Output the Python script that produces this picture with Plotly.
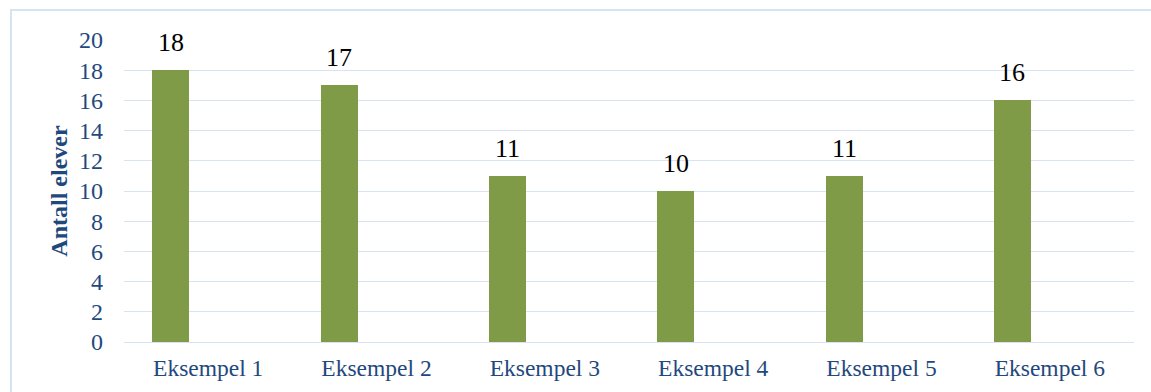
import plotly.graph_objects as go

categories = ["Eksempel 1", "Eksempel 2", "Eksempel 3", "Eksempel 4", "Eksempel 5", "Eksempel 6"]
antall_elever = [18, 17, 11, 10, 11, 16]
y_ticks = list(range(0, 21, 2))

BAR_COLOR = "#7F9B48"
TEXT_BLUE = "#1F497D"
GRID_COLOR = "#D9E2F3"
FONT = "Times New Roman, Liberation Serif, serif"

W, H = 1151, 392
L, R, T, B = 124, 17, 40, 50
plot_w = W - L - R
plot_h = H - T - B
cat_w = plot_w / len(categories)

bar_width = 0.22
bar_offset = -0.332  # left edge relative to category centre

fig = go.Figure()
fig.add_trace(go.Bar(
    x=categories,
    y=antall_elever,
    width=bar_width,
    offset=bar_offset,
    marker=dict(color=BAR_COLOR, line=dict(width=0)),
    hoverinfo="skip",
))

# value labels above each bar
shift_px = (bar_offset + bar_width / 2) * cat_w
for c, v in zip(categories, antall_elever):
    fig.add_annotation(
        x=c, y=v, xref="x", yref="y",
        text=str(v), showarrow=False,
        xshift=shift_px, yshift=11,
        yanchor="bottom",
        font=dict(family=FONT, size=26, color="black"),
    )

# outer chart frame
fig.add_shape(
    type="rect", xref="paper", yref="paper",
    x0=(11 - L) / plot_w, x1=1.2,
    y0=-0.3, y1=1 + (T - 10) / plot_h,
    line=dict(color="#D6E3F3", width=2),
    fillcolor="rgba(0,0,0,0)", layer="below",
)

fig.update_layout(
    width=W, height=H,
    margin=dict(l=L, r=R, t=T, b=B),
    paper_bgcolor="white", plot_bgcolor="white",
    showlegend=False,
    bargap=0,
    font=dict(family=FONT, size=24, color=TEXT_BLUE),
)
fig.update_xaxes(
    showgrid=False, showline=False, zeroline=False,
    ticks="", ticklabelstandoff=9,
    tickfont=dict(family=FONT, size=23.5, color=TEXT_BLUE),
)
fig.update_yaxes(
    range=[0, 20], tickvals=y_ticks,
    showgrid=True, gridcolor=GRID_COLOR, gridwidth=1.3,
    zeroline=True, zerolinecolor=GRID_COLOR, zerolinewidth=1.3,
    showline=False, ticks="", ticklabelstandoff=20,
    tickfont=dict(family=FONT, size=24, color=TEXT_BLUE),
    title=dict(text="<b>Antall elever</b>", standoff=4,
               font=dict(family=FONT, size=24, color=TEXT_BLUE)),
)

fig.write_html("out.html")
